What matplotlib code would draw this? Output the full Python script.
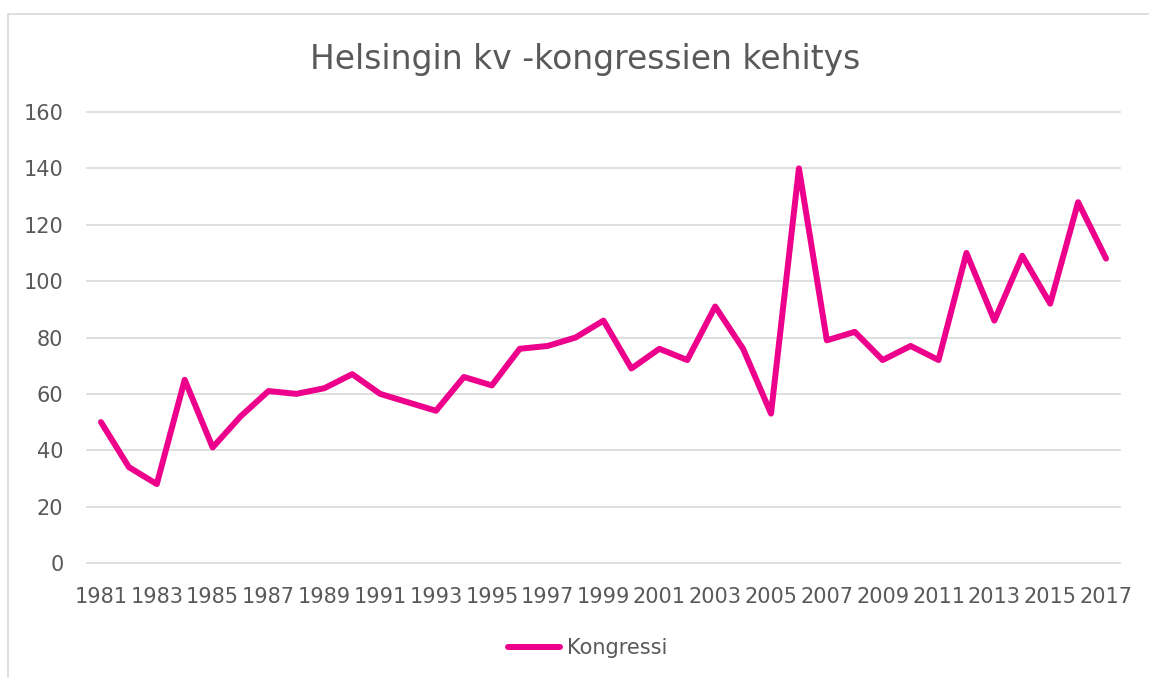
import numpy as np
import matplotlib.pyplot as plt
from matplotlib.patches import Rectangle

# Data
years = list(range(1981, 2018))
kongressi = [50, 34, 28, 65, 41, 52, 61, 60, 62, 67,
             60, 57, 54, 66, 63, 76, 77, 80, 86, 69,
             76, 72, 91, 76, 53, 140, 79, 82, 72, 77,
             72, 110, 86, 109, 92, 128, 108]
y_ticks = [0, 20, 40, 60, 80, 100, 120, 140, 160]

text_col = '#595959'
grid_col = '#D9D9D9'
line_col = '#EC008C'

fig = plt.figure(figsize=(11.49, 6.78), dpi=100)
ax = fig.add_axes([87 / 1149, 1 - 563 / 678, 1033 / 1149, 451 / 678])

x = np.arange(len(years))
ax.plot(x, kongressi, color=line_col, linewidth=4.3, solid_joinstyle='round',
        solid_capstyle='round', label='Kongressi')

ax.set_xlim(-0.5, len(years) - 0.5)
ax.set_ylim(0, 160)
ax.set_yticks(y_ticks)
ax.set_xticks(x[::2])
ax.set_xticklabels([str(y) for y in years[::2]])
ax.grid(axis='y', color=grid_col, linewidth=1.2)
for gl in ax.get_ygridlines():
    gl.set_clip_on(False)
ax.set_axisbelow(True)
for s in ax.spines.values():
    s.set_visible(False)
ax.tick_params(axis='both', length=0, labelsize=15, colors=text_col)
ax.tick_params(axis='y', pad=17)
ax.tick_params(axis='x', pad=17)

fig.text(585 / 1149, 1 - 60 / 678, 'Helsingin kv -kongressien kehitys',
         ha='center', va='center', fontsize=23.7, color=text_col)

fig.legend(loc='center', bbox_to_anchor=(588 / 1149, 1 - 648 / 678),
           frameon=False, fontsize=15, handlelength=2.5, handletextpad=0.35,
           labelcolor=text_col)

# chart frame (only left and top edges are visible in the crop)
fig.patches.append(Rectangle((8 / 1149, -0.1), 1.2, 0.1 + (1 - 13.5 / 678),
                             transform=fig.transFigure, fill=False,
                             edgecolor=grid_col, linewidth=1.2))

fig.savefig('out.png', dpi=100)
